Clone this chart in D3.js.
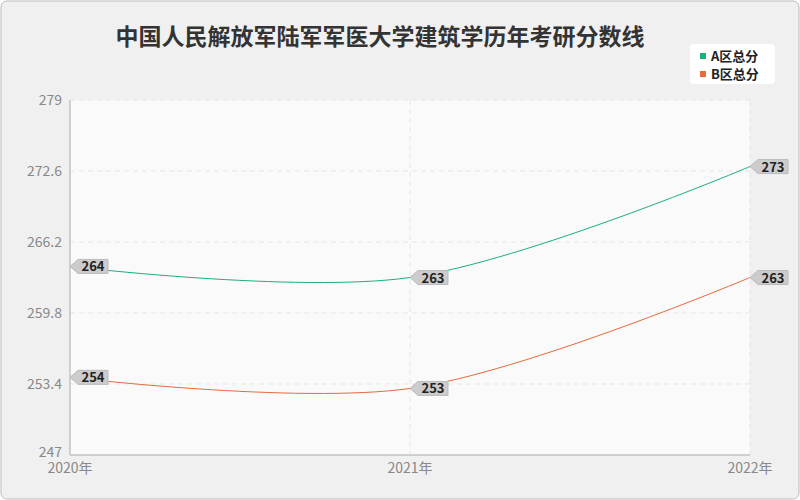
<!DOCTYPE html><html><head><meta charset="utf-8"><script src="https://cdn.jsdelivr.net/npm/d3@7"></script>
<style>body{margin:0}</style></head><body><svg id="c" width="800" height="500"></svg><script>
const years=["2020年","2021年","2022年"];
const seriesA=[264,263,273];
const seriesB=[254,253,263];
const names=["A区总分","B区总分"];
const colors=["#1aaf82","#e8693a"];
const ticks=[247,253.4,259.8,266.2,272.6,279];
const svg=d3.select("#c");
const font="'Noto Sans CJK SC','Noto Sans',sans-serif";
svg.append("rect").attr("x",1).attr("y",1).attr("width",798).attr("height",498).attr("rx",6).attr("fill","#f0f0f0").attr("stroke","#bbb");
const x=d3.scalePoint().domain(years).range([70,750]);
const y=d3.scaleLinear().domain([247,279]).range([455,100]);
svg.append("rect").attr("x",70).attr("y",100).attr("width",680).attr("height",355).attr("fill","#fafafa");
svg.selectAll(".hg").data(ticks.slice(1)).join("line").attr("x1",70).attr("x2",750).attr("y1",d=>y(d)).attr("y2",d=>y(d)).attr("stroke","#e6e6e6").attr("stroke-dasharray","5,4");
svg.selectAll(".vg").data(years.slice(1)).join("line").attr("x1",d=>x(d)).attr("x2",d=>x(d)).attr("y1",100).attr("y2",455).attr("stroke","#e6e6e6").attr("stroke-dasharray","5,4");
svg.append("line").attr("x1",70).attr("x2",70).attr("y1",100).attr("y2",455).attr("stroke","#aaa");
svg.append("line").attr("x1",70).attr("x2",750).attr("y1",455).attr("y2",455).attr("stroke","#aaa");
svg.selectAll(".yt").data(ticks).join("text").attr("x",62).attr("y",d=>y(d)+(d===247?2:5)).attr("text-anchor","end").attr("font-size",14).attr("fill","#888").attr("font-family",font).text(d=>d);
svg.selectAll(".xt").data(years).join("text").attr("x",d=>x(d)).attr("y",473).attr("text-anchor","middle").attr("font-size",14).attr("fill","#888").attr("font-family",font).text(d=>d);
svg.append("text").attr("x",380).attr("y",45).attr("text-anchor","middle").attr("font-size",23).attr("font-weight","bold").attr("fill","#333").attr("font-family",font).text("中国人民解放军陆军军医大学建筑学历年考研分数线");
const line=d3.line().x((d,i)=>x(years[i])).y(d=>y(d)).curve(d3.curveCatmullRom.alpha(0.5));
[seriesA,seriesB].forEach((s,k)=>{
 svg.append("path").attr("d",line(s)).attr("fill","none").attr("stroke",colors[k]).attr("stroke-width",1);
 s.forEach((v,i)=>{
  const px=x(years[i]),py=y(v);
  const g=svg.append("g").attr("transform",`translate(${px},${py})`);
  g.append("path").attr("d","M0,0 L8,-7 L38,-7 L38,7 L8,7 Z").attr("fill","#ccc").attr("stroke","#bbb");
  g.append("text").attr("x",23).attr("y",5).attr("text-anchor","middle").attr("font-size",13).attr("font-weight","bold").attr("fill","#222").attr("font-family",font).text(v);
 });
});
svg.append("rect").attr("x",690).attr("y",44).attr("width",85).attr("height",40).attr("rx",4).attr("fill","#fff");
names.forEach((n,k)=>{
 svg.append("rect").attr("x",700).attr("y",53+k*18).attr("width",6).attr("height",6).attr("fill",colors[k]);
 svg.append("text").attr("x",711).attr("y",61+k*18).attr("font-size",13).attr("font-weight","bold").attr("fill","#222").attr("font-family",font).text(n);
});
</script></body></html>
